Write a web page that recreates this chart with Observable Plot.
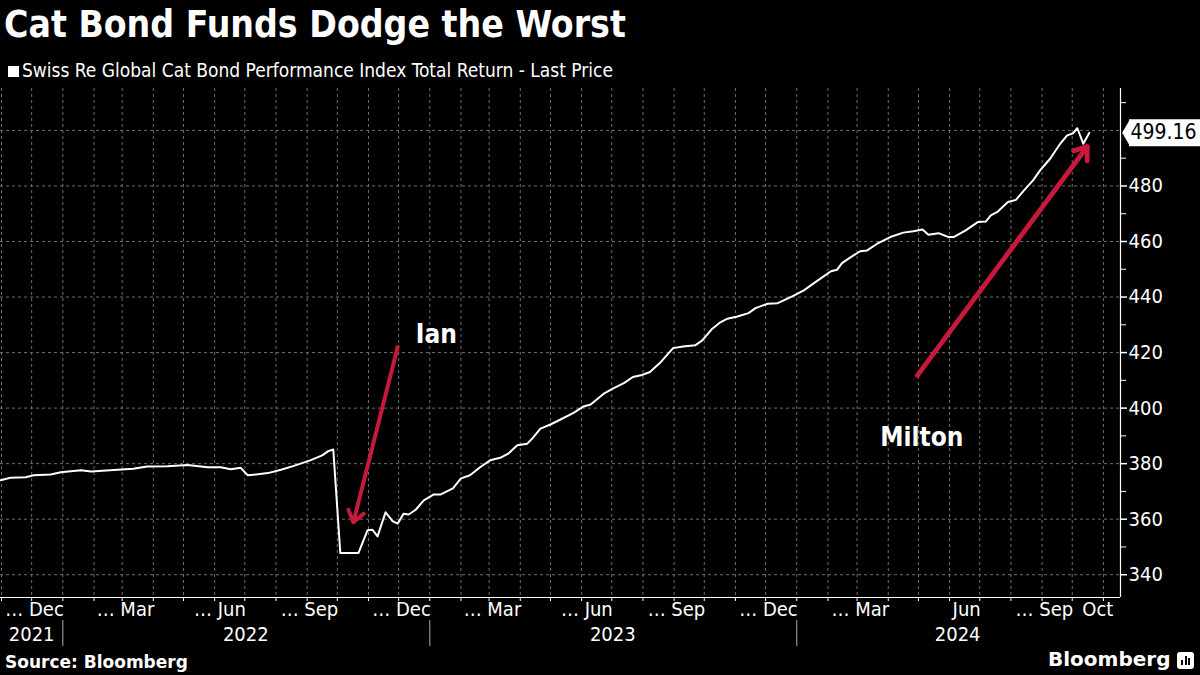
<!DOCTYPE html>
<html>
<head>
<meta charset="utf-8">
<script src="https://cdn.jsdelivr.net/npm/d3@7"></script>
<script src="https://cdn.jsdelivr.net/npm/@observablehq/plot@0.6"></script>
<style>
  html, body { margin: 0; padding: 0; background: #000; }
  body { width: 1200px; height: 675px; position: relative; overflow: hidden; color: #fff; }
  .cond { font-family: "DejaVu Sans Condensed", "DejaVu Sans", sans-serif; font-stretch: condensed; }
  #title { position: absolute; left: 4px; top: 3px; font-size: 37px; font-weight: bold; line-height: 44px; white-space: nowrap; }
  #subtitle { position: absolute; left: 8px; top: 59px; font-size: 19px; line-height: 22px; white-space: nowrap; }
  #subtitle .sq { display: inline-block; width: 11px; height: 11px; background: #fff; margin-right: 3px; vertical-align: 0px; }
  #chart { position: absolute; left: 0; top: 84px; }
  #source { position: absolute; left: 5px; top: 652px; font-family: "DejaVu Sans", sans-serif; font-weight: bold; font-size: 17px; line-height: 20px; }
  #brand { position: absolute; left: 1048px; top: 647px; font-family: "DejaVu Sans", sans-serif; font-weight: bold; font-size: 20px; line-height: 24px; }
  #icon { position: absolute; left: 1177px; top: 652px; width: 17px; height: 17px; background: #fff; border-radius: 3px; }
  #icon i { position: absolute; bottom: 4px; width: 2px; background: #000; }
</style>
</head>
<body>
<div id="title" class="cond">Cat Bond Funds Dodge the Worst</div>
<div id="subtitle" class="cond"><span class="sq"></span>Swiss Re Global Cat Bond Performance Index Total Return - Last Price</div>
<div id="chart"></div>
<div id="source">Source: Bloomberg</div>
<div id="brand">Bloomberg</div>
<div id="icon"><i style="left:4px;height:5px"></i><i style="left:7.5px;height:9px"></i><i style="left:11px;height:7px"></i></div>
<script>
// ---- data ----
const dates = ["2021-10-31","2021-11-10","2021-11-25","2021-12-03","2021-12-20","2021-12-30",
"2022-01-19","2022-01-29","2022-02-17","2022-03-12","2022-03-26","2022-04-15","2022-05-05","2022-05-25","2022-06-07","2022-06-17","2022-06-27","2022-07-04","2022-07-24","2022-08-06","2022-08-18","2022-09-04","2022-09-16","2022-09-22","2022-09-27","2022-10-04","2022-10-22","2022-10-31","2022-11-05","2022-11-10","2022-11-18","2022-11-25","2022-11-30","2022-12-06","2022-12-11","2022-12-18","2022-12-26",
"2023-01-05","2023-01-12","2023-01-24","2023-02-01","2023-02-10","2023-02-20","2023-03-02","2023-03-12","2023-03-20","2023-03-29","2023-04-08","2023-04-13","2023-04-21","2023-05-01","2023-05-11","2023-05-24","2023-06-03","2023-06-10","2023-06-23","2023-07-03","2023-07-13","2023-07-22","2023-07-30","2023-08-08","2023-08-18","2023-08-31","2023-09-10","2023-09-22","2023-09-29","2023-10-09","2023-10-17","2023-10-24","2023-11-03","2023-11-14","2023-11-21","2023-12-03","2023-12-13","2023-12-19","2023-12-28",
"2024-01-08","2024-01-22","2024-02-04","2024-02-10","2024-02-15","2024-02-23","2024-03-04","2024-03-11","2024-03-21","2024-04-03","2024-04-16","2024-04-26","2024-05-05","2024-05-11","2024-05-21","2024-05-31","2024-06-05","2024-06-17","2024-06-29","2024-07-07","2024-07-12","2024-07-19","2024-07-29","2024-08-06","2024-08-14","2024-08-23","2024-08-30","2024-09-09","2024-09-19","2024-09-26","2024-10-02","2024-10-06","2024-10-12","2024-10-18"];
const values = [374.0,374.9,375.1,375.8,376.1,376.9,
377.6,377.2,377.6,378.2,379.0,379.1,379.5,378.7,378.7,378.0,378.5,375.8,376.6,377.8,379.1,381.2,383.0,384.5,385.1,347.8,347.8,356.0,356.2,353.8,362.5,359.3,358.4,362.0,361.7,363.4,366.8,
368.9,368.9,371.1,374.7,375.8,378.7,381.2,382.1,383.6,386.6,387.2,389.1,392.6,394.1,395.9,398.3,400.6,401.3,405.2,407.2,409.0,411.2,411.8,413.0,416.3,421.6,422.2,422.6,424.4,428.6,430.9,432.2,433.0,434.2,436.0,437.6,437.8,438.8,440.3,
442.4,446.0,449.3,449.8,452.2,454.2,456.5,456.8,459.2,461.6,463.2,463.7,464.3,462.4,463.0,461.6,461.6,464.0,467.0,467.2,469.4,470.8,474.2,475.0,478.4,482.0,485.6,489.8,495.2,498.2,499.0,500.8,495.2,499.16];

const xDomain = ["2021-10-31", "2024-11-18"];
const yDomain = [331.8, 515.1];
const yTickValues = [340, 360, 380, 400, 420, 440, 460, 480];
const yMinorTicks = [350, 370, 390, 410, 430, 450, 470, 490, 510];
const yGridValues = [340, 360, 380, 400, 420, 440, 460, 480, 500];

const monthLabelDates = ["2022-01-01","2022-04-01","2022-07-01","2022-10-01","2023-01-01","2023-04-01","2023-07-01","2023-10-01","2024-01-01","2024-04-01","2024-07-01","2024-10-01"];
const monthLabelTexts = ["… Dec","… Mar","… Jun","… Sep","… Dec","… Mar","… Jun","… Sep","… Dec","… Mar","Jun","… Sep"];
const lastMonthLabelDate = "2024-11-01";
const lastMonthLabelText = "Oct";

const yearLabelDates = ["2021-12-01","2022-07-02","2023-07-02","2024-06-09"];
const yearLabelTexts = ["2021","2022","2023","2024"];
const yearBoundaries = ["2022-01-01","2023-01-01","2024-01-01"];

// annotation arrows: Ian, Milton
const ianArrow = {start: ["2022-11-30", 422.0], end: ["2022-10-17", 358.9]};
const miltonArrow = {start: ["2024-04-30", 411.8], end: ["2024-10-16", 494.2]};

const noteDates = ["2022-12-18", "2024-03-24"];
const noteValues = [426.4, 389.4];
const noteTexts = ["Ian", "Milton"];

// ---- build tables ----
const parse = d3.utcParse("%Y-%m-%d");
const series = dates.map((d, i) => ({date: parse(d), value: values[i]}));
const last = series[series.length - 1];
const monthTicks = d3.utcMonth.range(parse("2021-11-01"), parse(xDomain[1]));
const monthLabels = monthLabelDates.map((d, i) => ({date: parse(d), text: monthLabelTexts[i]}));
const yearLabels = yearLabelDates.map((d, i) => ({date: parse(d), text: yearLabelTexts[i]}));
const toArrow = a => ({x1: parse(a.start[0]), y1: a.start[1], x2: parse(a.end[0]), y2: a.end[1]});
const notes = noteDates.map((d, i) => ({date: parse(d), value: noteValues[i], text: noteTexts[i]}));

const COND = '"DejaVu Sans Condensed", "DejaVu Sans", sans-serif';
const GRID = "#6e6e6e";
const RED = "#c8193c";

const chart = Plot.plot({
  width: 1200,
  height: 565,
  marginTop: 4,
  marginBottom: 52,
  marginLeft: 0,
  marginRight: 80,
  style: {background: "#000", color: "#fff", fontFamily: COND, fontSize: "20px", overflow: "visible", fontStretch: "condensed"},
  x: {type: "utc", domain: xDomain.map(parse), axis: null},
  y: {domain: yDomain, axis: null},
  marks: [
    Plot.ruleX(monthTicks, {x: d => d, stroke: GRID, strokeDasharray: "3,3"}),
    Plot.ruleY(yGridValues, {y: d => d, stroke: GRID, strokeDasharray: "3,3"}),
    Plot.ruleX([parse(xDomain[1])], {x: d => d, stroke: "#fff", strokeWidth: 1.2}),
    Plot.ruleY([yDomain[0]], {y: d => d, stroke: "#fff", strokeWidth: 1.2}),
    Plot.axisX(monthTicks, {anchor: "bottom", tickSize: 4, tickFormat: () => "", stroke: "#fff", label: null}),
    Plot.axisY(yTickValues, {anchor: "right", tickSize: 6, tickPadding: 2, stroke: "#fff", strokeWidth: 1.5, fill: "#fff", fontSize: 20, label: null}),
    Plot.axisY(yMinorTicks, {anchor: "right", tickSize: 5, tickFormat: () => "", stroke: "#fff", label: null}),
    Plot.text(monthLabels, {x: "date", text: "text", frameAnchor: "bottom", textAnchor: "end", lineAnchor: "middle", dy: 12, dx: 1, fill: "#fff", fontSize: 20}),
    Plot.text([lastMonthLabelDate], {x: d => parse(d), text: () => lastMonthLabelText, frameAnchor: "bottom", textAnchor: "end", lineAnchor: "middle", dy: 12, dx: 10, fill: "#fff", fontSize: 20}),
    Plot.text(yearLabels, {x: "date", text: "text", frameAnchor: "bottom", textAnchor: "middle", lineAnchor: "middle", dy: 37, fill: "#fff", fontSize: 20}),
    Plot.ruleX(yearBoundaries, {x: d => parse(d), stroke: "#aaa", insetTop: 532, insetBottom: -49}),
    Plot.line(series, {x: "date", y: "value", stroke: "#fff", strokeWidth: 2}),
    Plot.arrow([toArrow(ianArrow)], {x1: "x1", y1: "y1", x2: "x2", y2: "y2", stroke: RED, strokeWidth: 4, headLength: 5, headAngle: 72}),
    Plot.arrow([toArrow(miltonArrow)], {x1: "x1", y1: "y1", x2: "x2", y2: "y2", stroke: RED, strokeWidth: 4.8, headLength: 4.5, headAngle: 72}),
    Plot.text(notes, {x: "date", y: "value", text: "text", textAnchor: "start", lineAnchor: "middle", fill: "#fff", fontFamily: "DejaVu Sans, sans-serif", fontWeight: "bold", fontSize: 26}),
    // last price tag
    Plot.ruleY([last], {y: "value", stroke: "#fff", strokeWidth: 27, insetLeft: 1129, insetRight: -80}),
    Plot.dot([last], {y: "value", frameAnchor: "right", dx: 9.5, symbol: "diamond", r: 8.2, fill: "#fff", stroke: null}),
    Plot.text([last], {y: "value", text: d => d.value.toFixed(2), frameAnchor: "right", dx: 10, textAnchor: "start", lineAnchor: "middle", fill: "#000", fontSize: 21})
  ]
});
document.getElementById("chart").appendChild(chart);
</script>
</body>
</html>
